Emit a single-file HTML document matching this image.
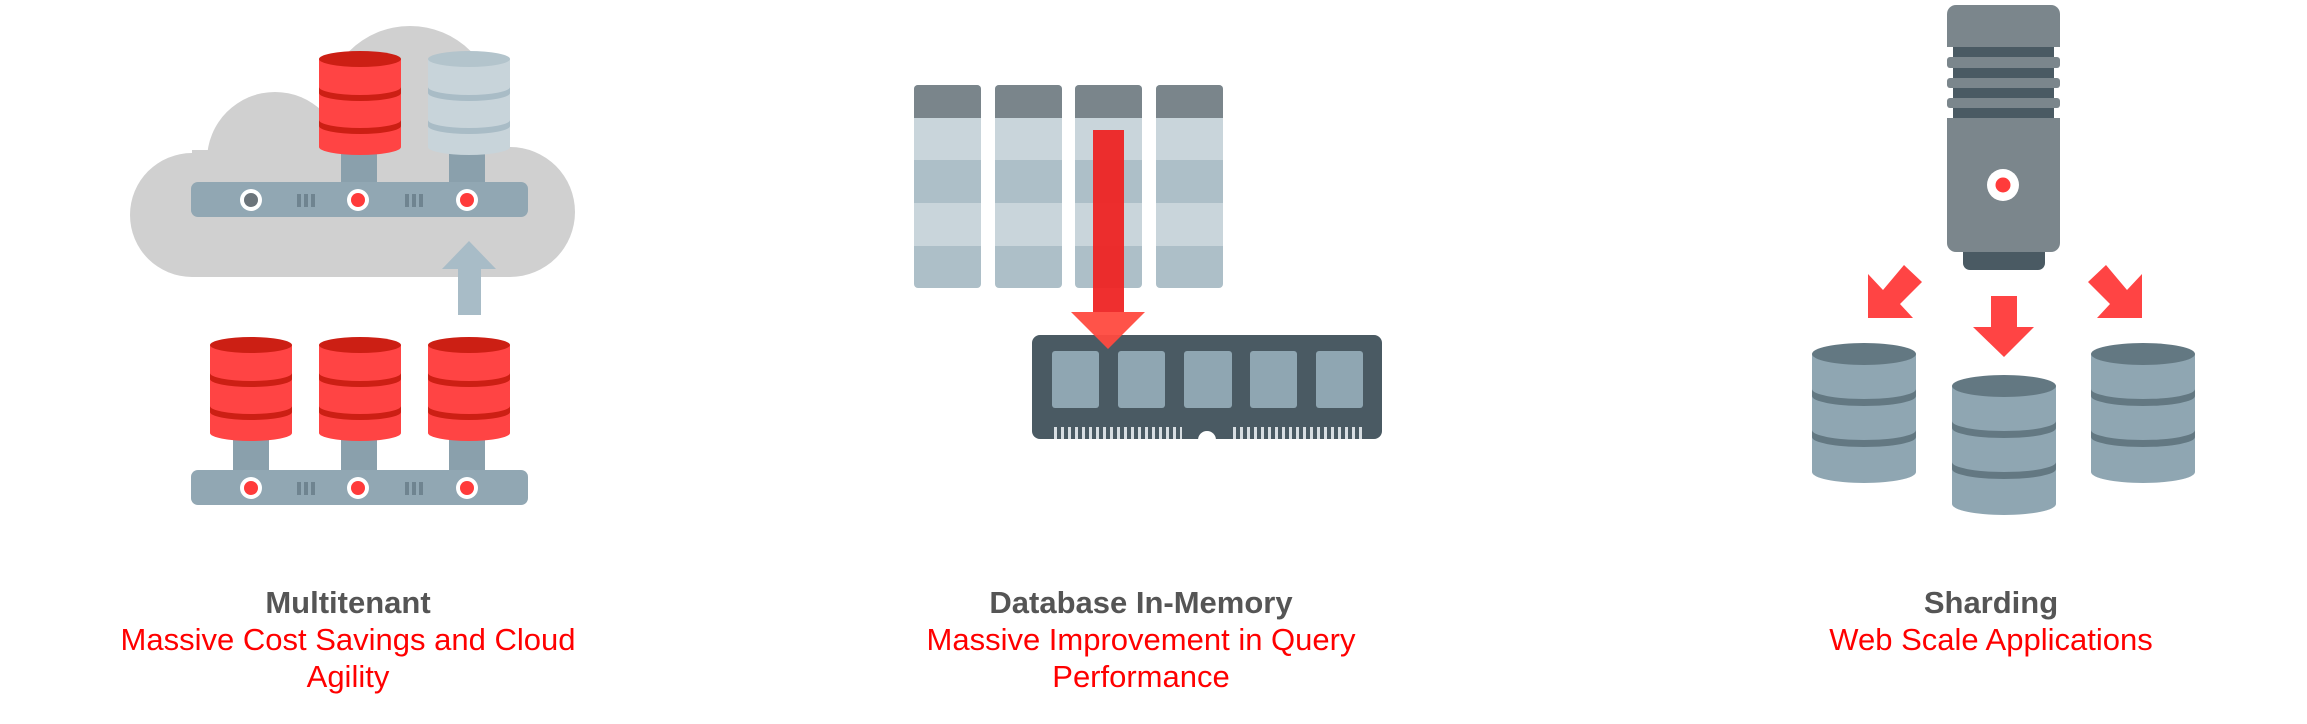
<!DOCTYPE html>
<html><head><meta charset="utf-8"><style>
html,body{margin:0;padding:0;background:#fff;}
body{width:2307px;height:724px;position:relative;overflow:hidden;font-family:"Liberation Sans",sans-serif;}
.t{position:absolute;text-align:center;width:700px;font-size:31px;line-height:37px;}
.t b{color:#555;display:block;}
.t span{color:#f00;}
</style></head><body>
<svg width="2307" height="724" style="position:absolute;left:0;top:0">
<defs>
<g id="rdb">
<path d="M0,9 V97 A41,8 0 0 0 82,97 V9 Z" fill="#ff4444"/>
<ellipse cx="41" cy="9" rx="41" ry="8" fill="#cc1f14"/>
<path d="M0,37 A41,8 0 0 0 82,37 V43 A41,8 0 0 1 0,43 Z" fill="#cc1f14"/>
<path d="M0,70 A41,8 0 0 0 82,70 V76 A41,8 0 0 1 0,76 Z" fill="#cc1f14"/>
</g>
<g id="gdb">
<path d="M0,9 V97 A41,8 0 0 0 82,97 V9 Z" fill="#c8d4da"/>
<ellipse cx="41" cy="9" rx="41" ry="8" fill="#b3c4cc"/>
<path d="M0,37 A41,8 0 0 0 82,37 V43 A41,8 0 0 1 0,43 Z" fill="#a9bcc6"/>
<path d="M0,70 A41,8 0 0 0 82,70 V76 A41,8 0 0 1 0,76 Z" fill="#a9bcc6"/>
</g>
<g id="sdb">
<path d="M0,12 V130 A52,11 0 0 0 104,130 V12 Z" fill="#8fa6b2"/>
<ellipse cx="52" cy="12" rx="52" ry="11" fill="#637882"/>
<path d="M0,47 A52,10 0 0 0 104,47 V54 A52,10 0 0 1 0,54 Z" fill="#637882"/>
<path d="M0,88 A52,10 0 0 0 104,88 V95 A52,10 0 0 1 0,95 Z" fill="#637882"/>
</g>
<g id="bar">
<rect x="0" y="0" width="337" height="35" rx="7" fill="#91a7b3"/>
<circle cx="60" cy="18" r="11" fill="#fff"/>
<circle cx="167" cy="18" r="11" fill="#fff"/>
<circle cx="276" cy="18" r="11" fill="#fff"/>
<circle cx="167" cy="18" r="7" fill="#ff3b3b"/>
<circle cx="276" cy="18" r="7" fill="#ff3b3b"/>
<g fill="#6f8490"><rect x="106" y="12" width="4" height="13"/><rect x="113" y="12" width="4" height="13"/><rect x="120" y="12" width="4" height="13"/>
<rect x="214" y="12" width="4" height="13"/><rect x="221" y="12" width="4" height="13"/><rect x="228" y="12" width="4" height="13"/></g>
</g>
</defs>
<!-- Panel 1 -->
<g fill="#d0d0d0">
<circle cx="192" cy="215" r="62"/>
<circle cx="275" cy="160" r="68"/>
<circle cx="410" cy="112" r="86"/>
<circle cx="510" cy="212" r="65"/>
<rect x="192" y="150" width="318" height="127"/>
</g>
<rect x="341" y="150" width="36" height="35" fill="#8aa0ac"/>
<rect x="449" y="150" width="36" height="35" fill="#8aa0ac"/>
<use href="#bar" x="191" y="182"/>
<circle cx="251" cy="200" r="7" fill="#6b747a"/>
<use href="#rdb" x="319" y="50"/>
<use href="#gdb" x="428" y="50"/>
<polygon points="469,241 496,269 481,269 481,315 458,315 458,269 442,269" fill="#a8bcc7"/>
<rect x="233" y="440" width="36" height="32" fill="#8aa0ac"/>
<rect x="341" y="440" width="36" height="32" fill="#8aa0ac"/>
<rect x="449" y="440" width="36" height="32" fill="#8aa0ac"/>
<use href="#bar" x="191" y="470"/>
<circle cx="251" cy="488" r="7" fill="#ff3b3b"/>
<use href="#rdb" x="210" y="336"/>
<use href="#rdb" x="319" y="336"/>
<use href="#rdb" x="428" y="336"/>
<!-- Panel 2 -->
<g>
<g id="col">
<rect x="914" y="85" width="67" height="203" rx="4" fill="#adbfc8"/>
<rect x="914" y="118" width="67" height="42" fill="#c9d5db"/>
<rect x="914" y="203" width="67" height="43" fill="#c9d5db"/>
<path d="M914,118 V89 a4,4 0 0 1 4,-4 H977 a4,4 0 0 1 4,4 V118 Z" fill="#7a858b"/>
</g>
<use href="#col" x="81"/>
<use href="#col" x="161"/>
<use href="#col" x="242"/>
</g>
<rect x="1032" y="335" width="350" height="104" rx="8" fill="#4a5a63"/>
<g fill="#8fa6b2">
<rect x="1052" y="351" width="47" height="57" rx="3"/>
<rect x="1118" y="351" width="47" height="57" rx="3"/>
<rect x="1184" y="351" width="48" height="57" rx="3"/>
<rect x="1250" y="351" width="47" height="57" rx="3"/>
<rect x="1316" y="351" width="47" height="57" rx="3"/>
</g>
<g stroke="#d8dee2" stroke-dasharray="3,4">
<line x1="1054" y1="433" x2="1182" y2="433" stroke-width="12"/>
<line x1="1233" y1="433" x2="1362" y2="433" stroke-width="12"/>
</g>
<circle cx="1207" cy="440" r="9" fill="#fff"/>
<rect x="1093" y="130" width="31" height="182" fill="#ee2424" opacity="0.95"/>
<polygon points="1071,312 1145,312 1108,349" fill="#ff4a3f" opacity="0.95"/>
<!-- Panel 3 -->
<rect x="1963" y="240" width="82" height="30" rx="7" fill="#4a5a63"/>
<path d="M1947,47 V14 a9,9 0 0 1 9,-9 H2051 a9,9 0 0 1 9,9 V47 Z" fill="#7b868c"/>
<path d="M1947,118 H2060 V243 a9,9 0 0 1 -9,9 H1956 a9,9 0 0 1 -9,-9 Z" fill="#7b868c"/>
<g fill="#7b868c">
<rect x="1947" y="57" width="113" height="11" rx="3"/>
<rect x="1947" y="78" width="113" height="10" rx="3"/>
<rect x="1947" y="98" width="113" height="10" rx="3"/>
</g>
<g fill="#4a5a63">
<rect x="1953" y="47" width="101" height="10"/>
<rect x="1953" y="68" width="101" height="10"/>
<rect x="1953" y="88" width="101" height="10"/>
<rect x="1953" y="108" width="101" height="10"/>
</g>
<circle cx="2003" cy="185" r="16" fill="#fff"/>
<circle cx="2003" cy="185" r="7.5" fill="#ff3b3b"/>
<g fill="#ff4444">
<polygon points="1868,274 1883,290 1904,265 1922,282 1900,304 1913,318 1868,318"/>
<polygon points="2142,274 2127,290 2106,265 2088,282 2110,304 2097,318 2142,318"/>
<polygon points="1991,296 2017,296 2017,327 2034,327 2004,357 1973,327 1991,327"/>
</g>
<use href="#sdb" x="1812" y="342"/>
<use href="#sdb" x="1952" y="374"/>
<use href="#sdb" x="2091" y="342"/>
</svg>
<div class="t" style="left:-2px;top:584px"><b>Multitenant</b><span>Massive Cost Savings and Cloud<br>Agility</span></div>
<div class="t" style="left:791px;top:584px"><b>Database In-Memory</b><span>Massive Improvement in Query<br>Performance</span></div>
<div class="t" style="left:1641px;top:584px"><b>Sharding</b><span>Web Scale Applications</span></div>
</body></html>
